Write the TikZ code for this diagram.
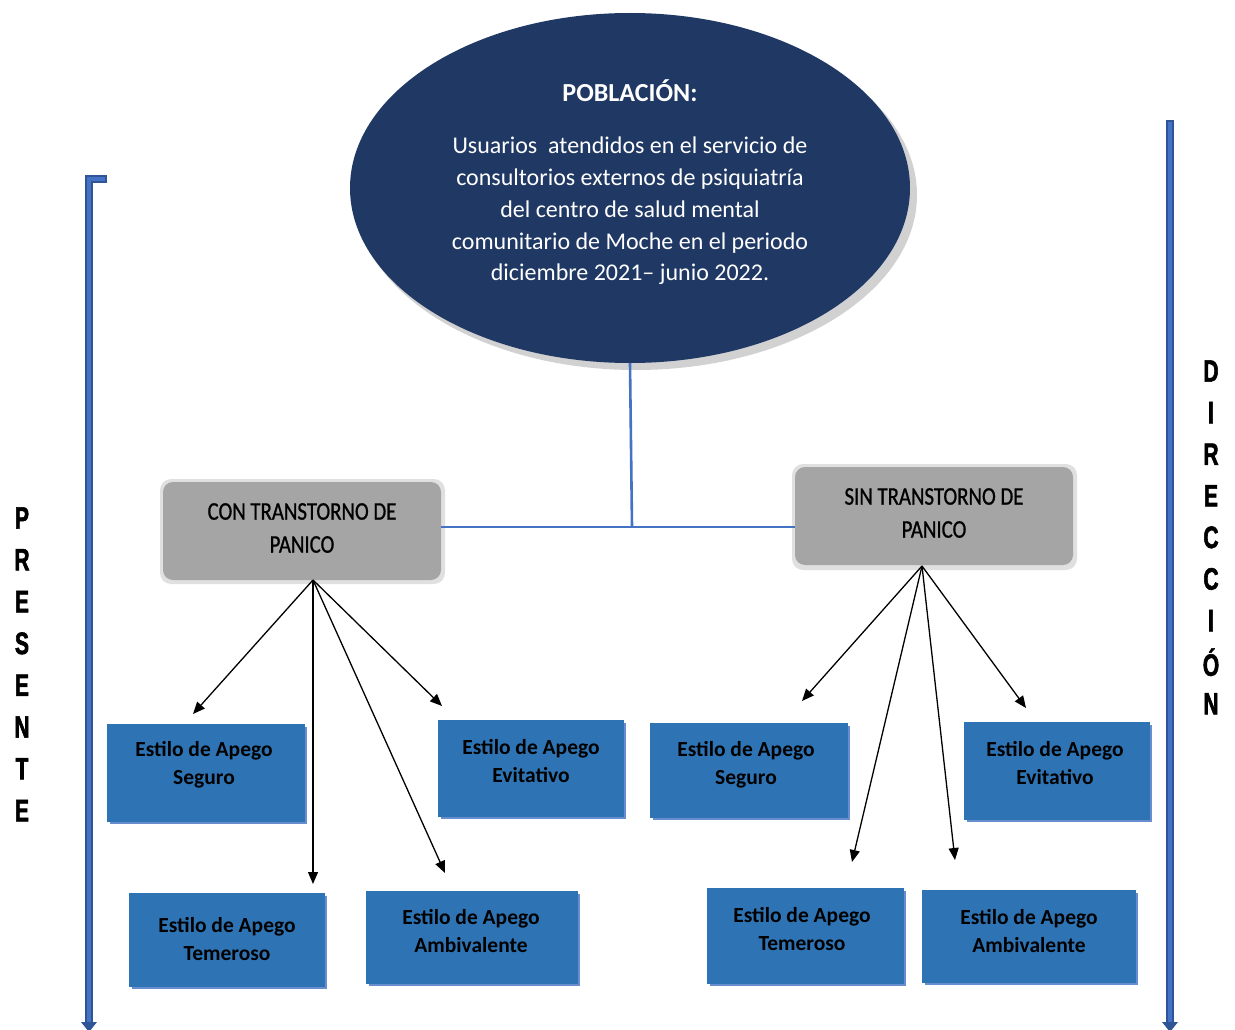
\documentclass[tikz,border=0pt]{standalone}
\usepackage{fontspec}
\setmainfont{Carlito}
\newfontfamily\narrowfont[FakeStretch=0.82,FakeBold=0.8]{Carlito}
\newfontfamily\heavyfont[FakeStretch=0.68,FakeBold=1.8]{Liberation Sans}
\usetikzlibrary{shapes.geometric,arrows.meta,calc}
\definecolor{navy}{HTML}{203864}
\definecolor{greybox}{HTML}{A5A5A5}
\definecolor{bluebox}{HTML}{2E74B5}
\definecolor{lineblue}{HTML}{4472C4}
\definecolor{darkblue}{HTML}{2F5597}
\begin{document}
\begin{tikzpicture}[x=1pt,y=-1pt,
  greystyle/.style={rectangle, rounded corners=10pt, fill=greybox, minimum width=278pt, minimum height=98pt, align=center, inner sep=0pt},
  bluestyle/.style={rectangle, fill=bluebox, inner sep=0pt},
  bluetext/.style={align=center, inner sep=0pt, font=\fontsize{21.5}{28}\selectfont\bfseries, text=black},
  conn/.style={draw=black, line width=1.3pt, -{Triangle[length=12pt,width=10pt]}},
  link/.style={draw=lineblue, line width=2.6pt},
  letter/.style={font=\heavyfont\fontsize{31}{31}\selectfont\bfseries, text=black, inner sep=0pt},
  bar/.style={draw=darkblue, line width=8pt},
  barin/.style={draw=lineblue, line width=3.5pt}
]
\useasboundingbox (0,0) rectangle (1235,1030);

% ellipse with shadow
\fill[black!30, opacity=0.6] (636,195) ellipse (281pt and 175pt);
\node[ellipse, fill=navy, minimum width=560pt, minimum height=350pt, inner sep=0pt] (pob) at (630,188) {};
\node[text=white, font=\fontsize{26}{28}\selectfont\bfseries] (pobt) at (630,91) {POBLACIÓN:};
\node[text=white, align=center, font=\fontsize{24}{31.8}\selectfont] (pobb) at (630,211) {Usuarios\ \ atendidos en el servicio de\\ consultorios externos de psiquiatría\\ del centro de salud mental\\ comunitario de Moche en el periodo\\ diciembre 2021– junio 2022.};

% grey boxes with soft shadow
\fill[black!12, rounded corners=11pt] (160,479) rectangle (445,584);
\node[greystyle] (con) at (302,531) {};
\node[font=\narrowfont\fontsize{25.4}{33}\selectfont, align=center] (cont) at (302,528) {CON TRANSTORNO DE\\ PANICO};
\fill[black!12, rounded corners=11pt] (792,464) rectangle (1077,570);
\node[greystyle] (sin) at (934,516) {};
\node[font=\narrowfont\fontsize{25.4}{33}\selectfont, align=center] (sint) at (934,513) {SIN TRANSTORNO DE\\ PANICO};

% connecting lines
\coordinate (j) at (632,527);
\draw[link] (pob.south) -- (j);
\draw[link] (con.east |- j) -- (sin.west |- j);

% blue boxes (with edge shadow)
\foreach \xa/\ya/\xb/\yb in {107/724/305/822, 438/720/624/817, 129/893/325/987, 366/891/578/984, 650/723/848/818, 964/722/1150/820, 707/888/904/984, 922/890/1136/983}{
  \fill[lineblue!80] (\xa+3,\ya+3) rectangle (\xb+2,\yb+2);
}
\node[bluestyle, minimum width=198pt, minimum height=98pt] (ls) at (206,773) {};
\node[bluestyle, minimum width=186pt, minimum height=97pt] (le) at (531,768.5) {};
\node[bluestyle, minimum width=196pt, minimum height=94pt] (lt) at (227,940) {};
\node[bluestyle, minimum width=212pt, minimum height=93pt] (la) at (472,937.5) {};
\node[bluestyle, minimum width=198pt, minimum height=95pt] (rs) at (749,770.5) {};
\node[bluestyle, minimum width=186pt, minimum height=98pt] (re) at (1057,771) {};
\node[bluestyle, minimum width=197pt, minimum height=96pt] (rt) at (805.5,936) {};
\node[bluestyle, minimum width=214pt, minimum height=93pt] (ra) at (1029,936.5) {};
\node[bluetext] (lsx) at (204,765) {Estilo de Apego\\ Seguro};
\node[bluetext] (lex) at (531,761) {Estilo de Apego\\ Evitativo};
\node[bluetext] (ltx) at (227,939) {Estilo de Apego\\ Temeroso};
\node[bluetext] (lax) at (471,931.5) {Estilo de Apego\\ Ambivalente};
\node[bluetext] (rsx) at (746,765) {Estilo de Apego\\ Seguro};
\node[bluetext] (rex) at (1055,763.5) {Estilo de Apego\\ Evitativo};
\node[bluetext] (rtx) at (802,929.5) {Estilo de Apego\\ Temeroso};
\node[bluetext] (rax) at (1029,931.5) {Estilo de Apego\\ Ambivalente};

% arrows
\coordinate (lo) at (313,580);
\coordinate (ro) at (922,566);
\coordinate (lsT) at (193,714);
\coordinate (ltT) at (313,884);
\coordinate (laT) at (445,873);
\coordinate (leT) at (442,706);
\coordinate (rsT) at (802,701);
\coordinate (rtT) at (852,862);
\coordinate (raT) at (955,860);
\coordinate (reT) at (1026,708);
\draw[conn] (lo) -- (lsT);
\draw[conn] (lo) -- (ltT);
\draw[conn] (lo) -- (laT);
\draw[conn] (lo) -- (leT);
\draw[conn] (ro) -- (rsT);
\draw[conn] (ro) -- (rtT);
\draw[conn] (ro) -- (raT);
\draw[conn] (ro) -- (reT);

% big side arrows
\coordinate (lbTop) at (107,179);
\coordinate (lbCorner) at (89,179);
\coordinate (lbEnd) at (89,1022);
\draw[bar] (lbTop) -- (lbCorner) -- (lbEnd);
\draw[barin] ($(lbTop)+(-2,0)$) -- (lbCorner) -- (lbEnd);
\fill[darkblue] (81,1022) -- (97,1022) -- (89,1032) -- cycle;
\coordinate (rbTop) at (1170,120);
\coordinate (rbEnd) at (1170,1022);
\draw[bar] (rbTop) -- (rbEnd);
\draw[barin] ($(rbTop)+(0,2)$) -- (rbEnd);
\fill[darkblue] (1162,1022) -- (1178,1022) -- (1170,1032) -- cycle;

% vertical letters
\foreach \c [count=\i from 0] in {P,R,E,S,E,N,T,E}{
  \node[letter] (p\i) at (22,{518+41.8*\i}) {\c};
}
\foreach \c [count=\i from 0] in {D,I,R,E,C,C,I,Ó,N}{
  \node[letter] (d\i) at (1211,{371+41.6*\i}) {\c};
}
\end{tikzpicture}
\end{document}
